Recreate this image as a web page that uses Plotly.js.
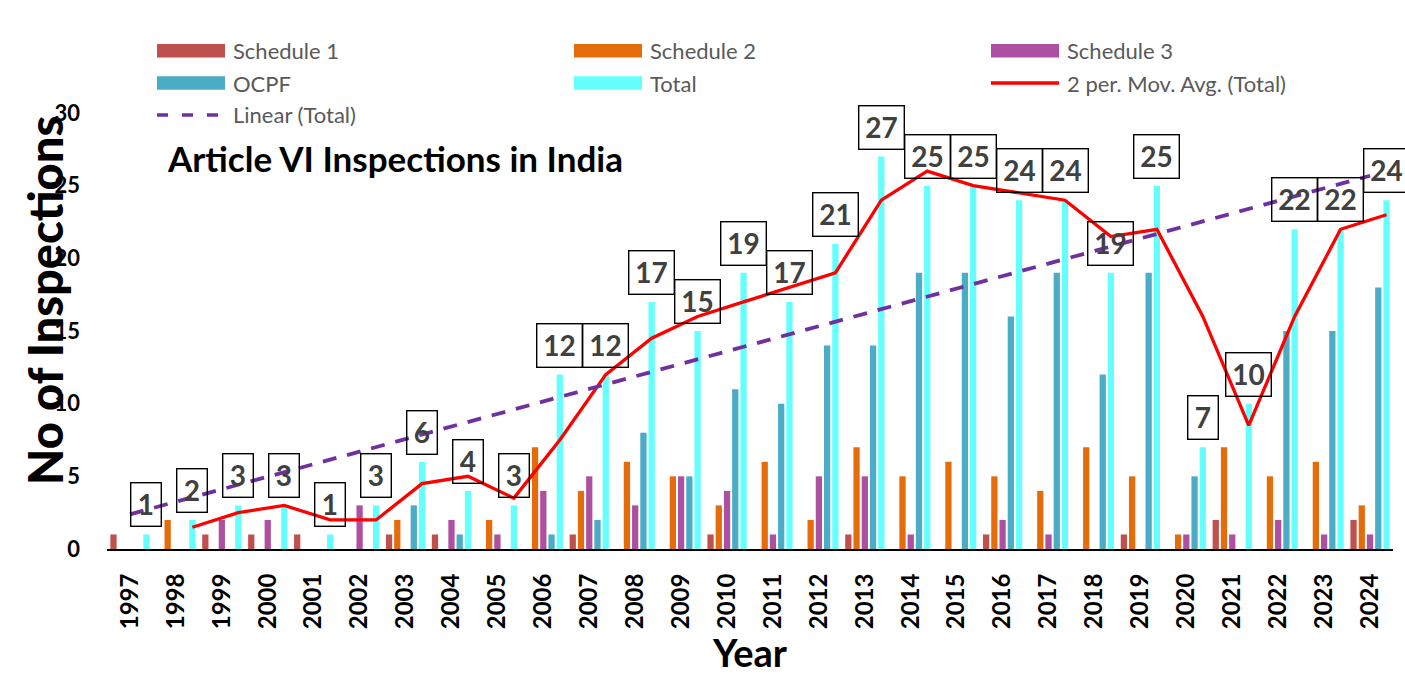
<!DOCTYPE html>
<html>
<head>
<meta charset="utf-8">
<script src="https://cdn.plot.ly/plotly-3.0.1.min.js"></script>
<style>
  html, body { margin: 0; padding: 0; background: #ffffff; }
  #chart { width: 1405px; height: 692px; }
</style>
</head>
<body>
<div id="chart"></div>
<script>
// ---------------- data ----------------
const years = ["1997","1998","1999","2000","2001","2002","2003","2004","2005","2006","2007","2008","2009","2010",
               "2011","2012","2013","2014","2015","2016","2017","2018","2019","2020","2021","2022","2023","2024"];
const schedule1 = [1,0,1,1,1,0,1,1,0,0,1,0,0,1,0,0,1,0,0,1,0,0,1,0,2,0,0,2];
const schedule2 = [0,2,0,0,0,0,2,0,2,7,4,6,5,3,6,2,7,5,6,5,4,7,5,1,7,5,6,3];
const schedule3 = [0,0,2,2,0,3,0,2,1,4,5,3,5,4,1,5,5,1,0,2,1,0,0,1,1,2,1,1];
const ocpf      = [0,0,0,0,0,0,3,1,0,1,2,8,5,11,10,14,14,19,19,16,19,12,19,5,0,15,15,18];
const total     = [1,2,3,3,1,3,6,4,3,12,12,17,15,19,17,21,27,25,25,24,24,19,25,7,10,22,22,24];

// ---------------- layout constants ----------------
const FONT = "Lato, 'Liberation Sans', Arial, sans-serif";
const L = 107, R = 12, T = 113, B = 143;
const W = 1405 - L - R, H = 692 - T - B;
const px2x = p => (p - L) / W;
const py2y = p => 1 - (p - T) / H;

const BARGAP = 0.1025;
const NSER = 5;
const slot = (1 - BARGAP) / NSER;
const totalOffset = 2 * slot; // Total is the 5th bar of each cluster

const idx = years.map((_, i) => i);

// derived trendlines (Excel-style)
const movX = [], movY = [];
for (let i = 1; i < total.length; i++) {
  movX.push(i + totalOffset);
  movY.push((total[i - 1] + total[i]) / 2);
}
const n = total.length;
const xs = idx.map(i => i + 1);
const mx = xs.reduce((a, b) => a + b, 0) / n;
const my = total.reduce((a, b) => a + b, 0) / n;
let sxy = 0, sxx = 0;
for (let i = 0; i < n; i++) { sxy += (xs[i] - mx) * (total[i] - my); sxx += (xs[i] - mx) ** 2; }
const slope = sxy / sxx, icpt = my - slope * mx;
const linY = xs.map(x => icpt + slope * x);

const colors = {
  s1: "#C0504D", s2: "#E46C0A", s3: "#AE50A1", ocpf: "#4BACC6", total: "#66FFFF",
  mov: "#FF0000", lin: "#7030A0"
};

const barTrace = (name, y, color) => ({
  type: "bar", name, x: idx, y, marker: { color }, hoverinfo: "x+y+name", showlegend: false
});

const traces = [
  barTrace("Schedule 1", schedule1, colors.s1),
  barTrace("Schedule 2", schedule2, colors.s2),
  barTrace("Schedule 3", schedule3, colors.s3),
  barTrace("OCPF", ocpf, colors.ocpf),
  barTrace("Total", total, colors.total),
  { type: "scatter", mode: "lines", name: "2 per. Mov. Avg. (Total)", x: movX, y: movY,
    line: { color: colors.mov, width: 3.3 }, showlegend: false },
  { type: "scatter", mode: "lines", name: "Linear (Total)", x: idx, y: linY,
    line: { color: colors.lin, width: 3.8, dash: "14px,11px" }, showlegend: false }
];

// ---------------- data labels ----------------
const annotations = total.map((v, i) => ({
  x: i + totalOffset, y: v, xref: "x", yref: "y",
  text: String(v), showarrow: false, yanchor: "bottom", xanchor: "center", yshift: 7,
  bordercolor: "#000000", borderwidth: 1.4, borderpad: 1,
  width: String(v).length > 1 ? 42 : 27, height: 40,
  font: { family: FONT, size: 28, color: "#404040", weight: 700 }
}));

// ---------------- manual legend ----------------
const shapes = [];
const legendItems = [
  { label: "Schedule 1", kind: "bar", color: colors.s1, col: 0, row: 0 },
  { label: "Schedule 2", kind: "bar", color: colors.s2, col: 1, row: 0 },
  { label: "Schedule 3", kind: "bar", color: colors.s3, col: 2, row: 0 },
  { label: "OCPF", kind: "bar", color: colors.ocpf, col: 0, row: 1 },
  { label: "Total", kind: "bar", color: colors.total, col: 1, row: 1 },
  { label: "2 per. Mov. Avg. (Total)", kind: "line", color: colors.mov, col: 2, row: 1 },
  { label: "Linear (Total)", kind: "dash", color: colors.lin, col: 0, row: 2 }
];
const colX = [157, 574, 991];
const rowY = [50.7, 83, 115];
legendItems.forEach(it => {
  const x0 = colX[it.col], x1 = x0 + 68, yc = rowY[it.row];
  if (it.kind === "bar") {
    shapes.push({ type: "rect", xref: "paper", yref: "paper", x0: px2x(x0), x1: px2x(x1),
      y0: py2y(yc - 6.7), y1: py2y(yc + 6.7), fillcolor: it.color, line: { width: 0 } });
  } else {
    shapes.push({ type: "line", xref: "paper", yref: "paper", x0: px2x(x0), x1: px2x(x1),
      y0: py2y(yc), y1: py2y(yc),
      line: { color: it.color, width: 3.5, dash: it.kind === "dash" ? "11px,14px" : "solid" } });
  }
  annotations.push({ xref: "paper", yref: "paper", x: px2x(x0 + 74), y: py2y(yc),
    xanchor: "left", yanchor: "middle", showarrow: false, text: it.label,
    font: { family: FONT, size: 22, color: "#595959" } });
});

// y axis title (placed to match reference)
annotations.push({ xref: "paper", yref: "paper", x: px2x(45), y: py2y(301),
  xanchor: "center", yanchor: "middle", showarrow: false, textangle: -90,
  text: "No of Inspections", font: { family: FONT, size: 47, color: "#000000", weight: 900 } });

const layout = {
  width: 1405, height: 692,
  margin: { l: L, r: R, t: T, b: B, pad: 0 },
  paper_bgcolor: "#ffffff", plot_bgcolor: "#ffffff",
  font: { family: FONT, color: "#000000" },
  title: { text: "Article VI Inspections in India", xref: "paper", yref: "container",
    x: px2x(168), xanchor: "left", y: 1 - 160 / 692, yanchor: "middle",
    font: { family: FONT, size: 35, color: "#000000", weight: 700 } },
  barmode: "group", bargap: BARGAP, bargroupgap: 0.24,
  showlegend: false,
  xaxis: {
    range: [-0.5, years.length - 0.5], tickmode: "array", tickvals: idx, ticktext: years,
    tickangle: -90, ticks: "", showgrid: false, zeroline: false,
    showline: true, linecolor: "#000000", linewidth: 2, ticklabelstandoff: 13,
    tickfont: { family: FONT, size: 24, color: "#000000", weight: 700 },
    title: { text: "Year", standoff: 10, font: { family: FONT, size: 38, color: "#000000", weight: 700 } },
    fixedrange: true
  },
  yaxis: {
    range: [0, 30], tickmode: "array", tickvals: [0, 5, 10, 15, 20, 25, 30],
    ticks: "", showgrid: false, zeroline: false, showline: false, ticklabelstandoff: 26,
    tickfont: { family: FONT, size: 22, color: "#000000", weight: 700 },
    fixedrange: true
  },
  shapes, annotations
};

Plotly.newPlot("chart", traces, layout, { displayModeBar: false, staticPlot: true });
</script>
</body>
</html>
